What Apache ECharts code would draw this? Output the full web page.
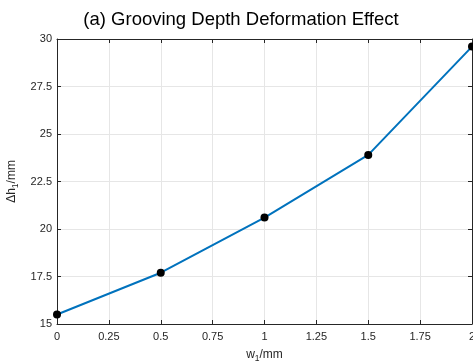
<!DOCTYPE html>
<html>
<head>
<meta charset="utf-8">
<script src="https://cdn.jsdelivr.net/npm/echarts@6/dist/echarts.min.js"></script>
<style>
  html, body { margin: 0; padding: 0; background: #fff; }
  #chart { width: 473px; height: 362px; }
</style>
</head>
<body>
<div id="chart"></div>
<script>
// Groove width w1 (mm) against depth deformation Δh1 (mm)
const widths = [0, 0.5, 1, 1.5, 2];
const depthDeformation = [15.5, 17.7, 20.6, 23.9, 29.6];

const titleText = '(a) Grooving Depth Deformation Effect';
const xName = 'w{sub|1}/mm';
const yName = 'Δh{sub|1}/mm';

const FONT = '"Liberation Sans", Arial, Helvetica, sans-serif';
const AXIS_COLOR = '#262626';

const chart = echarts.init(document.getElementById('chart'), null, { renderer: 'canvas' });

const nameRich = {
  sub: { fontSize: 8.5, verticalAlign: 'bottom', padding: [7, 0, 0, 0], fontFamily: FONT, color: AXIS_COLOR }
};

const frameAxis = {
  axisLine: { show: true, onZero: false, lineStyle: { color: AXIS_COLOR, width: 1 } },
  axisTick: { show: true, inside: true, length: 4, lineStyle: { color: AXIS_COLOR } },
  axisLabel: { show: false },
  splitLine: { show: false }
};

chart.setOption({
  animation: false,
  backgroundColor: '#ffffff',
  title: {
    text: titleText,
    left: 236,
    textAlign: 'center',
    top: 5,
    textStyle: { fontFamily: FONT, fontSize: 18.5, fontWeight: 'normal', color: '#000' }
  },
  grid: { left: 57, right: 1, top: 39, bottom: 38, containLabel: false, outerBoundsMode: 'none' },
  xAxis: [
    {
      type: 'value', position: 'bottom', min: 0, max: 2, interval: 0.25,
      name: xName, nameLocation: 'middle', nameGap: 23,
      nameTextStyle: { fontFamily: FONT, fontSize: 12, color: AXIS_COLOR, rich: nameRich },
      axisLine: { show: true, onZero: false, lineStyle: { color: AXIS_COLOR, width: 1 } },
      axisTick: { show: true, inside: true, length: 4, lineStyle: { color: AXIS_COLOR } },
      axisLabel: { fontFamily: FONT, fontSize: 11, color: AXIS_COLOR, margin: 7 },
      splitLine: { show: true, lineStyle: { color: '#e6e6e6', width: 1 } }
    },
    Object.assign({ type: 'value', min: 0, max: 2, interval: 0.25, position: 'top' }, frameAxis)
  ],
  yAxis: [
    {
      type: 'value', position: 'left', min: 15, max: 30, interval: 2.5,
      name: yName, nameLocation: 'middle', nameGap: 37, nameRotate: 90,
      nameTextStyle: { fontFamily: FONT, fontSize: 12, color: AXIS_COLOR, rich: nameRich },
      axisLine: { show: true, onZero: false, lineStyle: { color: AXIS_COLOR, width: 1 } },
      axisTick: { show: true, inside: true, length: 4, lineStyle: { color: AXIS_COLOR } },
      axisLabel: { fontFamily: FONT, fontSize: 11, color: AXIS_COLOR, margin: 5 },
      splitLine: { show: true, lineStyle: { color: '#e6e6e6', width: 1 } }
    },
    Object.assign({ type: 'value', min: 15, max: 30, interval: 2.5, position: 'right' }, frameAxis)
  ],
  series: [{
    type: 'line',
    data: widths.map((w, i) => [w, depthDeformation[i]]),
    lineStyle: { color: '#0072BD', width: 2 },
    symbol: 'circle',
    symbolSize: 8,
    itemStyle: { color: '#000000', borderWidth: 0 },
    clip: false
  }]
});
</script>
</body>
</html>
